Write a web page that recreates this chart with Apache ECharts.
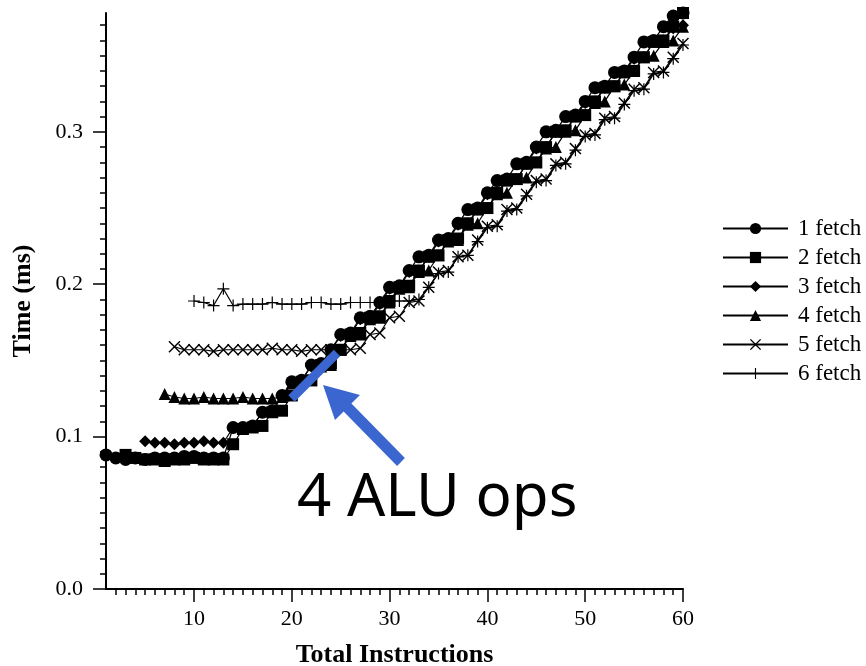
<!DOCTYPE html>
<html>
<head>
<meta charset="utf-8">
<script src="https://cdn.jsdelivr.net/npm/echarts@6/dist/echarts.min.js"></script>
<style>
  html, body { margin: 0; padding: 0; background: #fff; }
  #chart { width: 866px; height: 666px; }
</style>
</head>
<body>
<div id="chart"></div>
<script>
// Execution time versus total instruction count, one curve per fetch count.
const seriesNames = ['1 fetch', '2 fetch', '3 fetch', '4 fetch', '5 fetch', '6 fetch'];
// First instruction count of each curve (values below run x = start, start+1, ...)
const startInstr = [1, 3, 5, 7, 8, 10];

const fetch1 = [0.088,0.086,0.085,0.086,0.085,0.086,0.086,0.086,0.087,0.087,
  0.086,0.086,0.086,0.106,0.106,0.107,0.116,0.117,0.127,0.136,
  0.137,0.147,0.148,0.157,0.167,0.168,0.178,0.179,0.188,0.198,
  0.199,0.209,0.218,0.219,0.229,0.230,0.240,0.249,0.250,0.260,
  0.268,0.269,0.279,0.280,0.290,0.300,0.301,0.310,0.311,0.320,
  0.329,0.330,0.339,0.340,0.349,0.359,0.360,0.369,0.376,0.378];
const fetch2 = [0.088,0.086,0.085,0.085,0.084,0.085,0.085,0.086,0.085,0.085,
  0.085,0.095,0.105,0.106,0.107,0.116,0.117,0.127,0.136,0.137,
  0.147,0.148,0.157,0.167,0.168,0.178,0.179,0.189,0.198,0.199,
  0.209,0.218,0.219,0.229,0.230,0.240,0.249,0.250,0.260,0.268,
  0.269,0.279,0.280,0.290,0.300,0.301,0.310,0.311,0.320,0.329,
  0.330,0.339,0.340,0.349,0.359,0.360,0.369,0.378];
const fetch3 = [0.097,0.096,0.096,0.095,0.096,0.096,0.097,0.096,0.096,0.106,
  0.106,0.107,0.116,0.117,0.126,0.136,0.137,0.146,0.147,0.157,
  0.166,0.167,0.177,0.178,0.187,0.197,0.198,0.208,0.209,0.218,
  0.228,0.229,0.239,0.240,0.249,0.259,0.260,0.268,0.269,0.279,
  0.289,0.290,0.300,0.301,0.310,0.319,0.320,0.329,0.330,0.339,
  0.348,0.349,0.359,0.360,0.368,0.370];
const fetch4 = [0.128,0.126,0.125,0.125,0.126,0.125,0.125,0.125,0.126,0.125,
  0.125,0.125,0.126,0.135,0.136,0.137,0.146,0.147,0.157,0.166,
  0.167,0.177,0.178,0.188,0.197,0.198,0.208,0.209,0.219,0.228,
  0.229,0.239,0.240,0.250,0.259,0.260,0.269,0.270,0.280,0.289,
  0.290,0.300,0.301,0.311,0.319,0.320,0.330,0.331,0.340,0.349,
  0.350,0.359,0.360,0.369];
const fetch5 = [0.159,0.157,0.157,0.157,0.156,0.157,0.157,0.157,0.157,0.157,
  0.158,0.157,0.157,0.156,0.157,0.157,0.157,0.157,0.157,0.158,
  0.167,0.168,0.178,0.179,0.188,0.189,0.198,0.208,0.209,0.218,
  0.219,0.229,0.238,0.239,0.249,0.250,0.259,0.268,0.269,0.279,
  0.280,0.289,0.298,0.299,0.309,0.310,0.319,0.328,0.329,0.339,
  0.340,0.349,0.358];
const fetch6 = [0.189,0.188,0.186,0.197,0.186,0.187,0.187,0.187,0.188,0.187,
  0.187,0.187,0.188,0.188,0.187,0.187,0.188,0.188,0.188,0.188,
  0.189,0.189,0.189,0.190,0.198,0.207,0.208,0.218,0.219,0.228,
  0.237,0.238,0.248,0.249,0.258,0.267,0.268,0.278,0.279,0.288,
  0.297,0.298,0.308,0.309,0.318,0.327,0.328,0.338,0.339,0.348,
  0.357];
const seriesValues = [fetch1, fetch2, fetch3, fetch4, fetch5, fetch6];

// Axis tick labels
const instrTicks = [10, 20, 30, 40, 50, 60];
const timeTicks = [0, 0.1, 0.2, 0.3];

const SERIF = '"Liberation Serif", "Times New Roman", serif';
const BLUE = '#3b66cf';

// Minor tick positions (one per instruction, one per 0.01 ms)
const instrMinor = [];
for (let v = 2; v < 60; v++) if (v % 10 !== 0) instrMinor.push(v);
const timeMinor = [];
for (let k = 1; k <= 37; k++) if (k % 10 !== 0) timeMinor.push(k / 100);

// Marker shapes: cross and plus drawn as thin filled outlines
const CROSS = 'path://M0,1.7 L1.7,0 L10,8.3 L18.3,0 L20,1.7 L11.7,10 L20,18.3 L18.3,20 L10,11.7 L1.7,20 L0,18.3 L8.3,10 Z';
const PLUS = 'path://M9,0 L11,0 L11,9 L20,9 L20,11 L11,11 L11,20 L9,20 L9,11 L0,11 L0,9 L9,9 Z';
const symbols = ['circle', 'rect', 'diamond', 'triangle', CROSS, PLUS];
const symbolSizes = [13, 12, 12, 12, 12, 12];

const series = seriesNames.map((name, i) => ({
  name,
  type: 'line',
  data: seriesValues[i].map((v, j) => [startInstr[i] + j, v]),
  symbol: symbols[i],
  symbolSize: symbolSizes[i],
  showSymbol: true,
  showAllSymbol: true,
  lineStyle: { color: '#000', width: 1.2 },
  itemStyle: { color: '#000', borderWidth: 0 },
  emphasis: { disabled: true },
  xAxisIndex: 0,
  yAxisIndex: 0
}));

const tickLine = { color: '#000', width: 1.5 };
const chart = echarts.init(document.getElementById('chart'), null, { renderer: 'canvas' });
chart.setOption({
  animation: false,
  backgroundColor: '#fff',
  grid: { left: 106, right: 183, top: 13, bottom: 77, outerBoundsMode: 'none', containLabel: false },
  legend: {
    orient: 'vertical',
    left: 717,
    top: 212,
    itemWidth: 65,
    itemHeight: 14,
    itemGap: 6,
    selectedMode: false,
    textStyle: { fontFamily: SERIF, fontSize: 23, color: '#000', padding: [0, 0, 0, 5] },
    data: seriesNames
  },
  xAxis: [
    {
      type: 'value', min: 1, max: 60, position: 'bottom',
      axisLine: { show: true, lineStyle: { color: '#000', width: 2 } },
      splitLine: { show: false },
      axisTick: { show: true, length: 13, customValues: instrTicks, lineStyle: tickLine },
      axisLabel: { customValues: instrTicks, margin: 19, color: '#000', fontFamily: SERIF, fontSize: 22 },
      name: 'Total Instructions', nameLocation: 'middle', nameGap: 53,
      nameTextStyle: { fontFamily: SERIF, fontWeight: 'bold', fontSize: 26, color: '#000' }
    },
    {
      type: 'value', min: 1, max: 60, position: 'bottom',
      axisLine: { show: false }, splitLine: { show: false },
      axisTick: { show: true, length: 6, customValues: instrMinor, lineStyle: tickLine },
      axisLabel: { show: false }
    }
  ],
  yAxis: [
    {
      type: 'value', min: 0, max: 0.378, position: 'left',
      axisLine: { show: true, lineStyle: { color: '#000', width: 2 } },
      splitLine: { show: false },
      axisTick: { show: true, length: 13, customValues: timeTicks, lineStyle: tickLine },
      axisLabel: { customValues: timeTicks, margin: 23, color: '#000', fontFamily: SERIF, fontSize: 22,
        formatter: v => v.toFixed(1) },
      name: 'Time (ms)', nameLocation: 'middle', nameGap: 70, nameRotate: 90,
      nameTextStyle: { fontFamily: SERIF, fontWeight: 'bold', fontSize: 26, color: '#000' }
    },
    {
      type: 'value', min: 0, max: 0.378, position: 'left',
      axisLine: { show: false }, splitLine: { show: false },
      axisTick: { show: true, length: 6, customValues: timeMinor, lineStyle: tickLine },
      axisLabel: { show: false }
    }
  ],
  series,
  graphic: [
    { type: 'line', z: 100, shape: { x1: 291.5, y1: 398.5, x2: 337, y2: 353 },
      style: { stroke: BLUE, lineWidth: 9 } },
    { type: 'polygon', z: 100,
      shape: { points: [[323, 385], [360, 395], [351.4, 403.6], [404.9, 458.1], [397.1, 465.9], [343.6, 411.4], [335, 420]] },
      style: { fill: BLUE } },
    { type: 'text', z: 100, style: { x: 297, y: 499, text: '4 ALU ops', font: '60px "Noto Sans"', fill: '#000',
      textAlign: 'left', textVerticalAlign: 'middle' } }
  ]
});
</script>
</body>
</html>
